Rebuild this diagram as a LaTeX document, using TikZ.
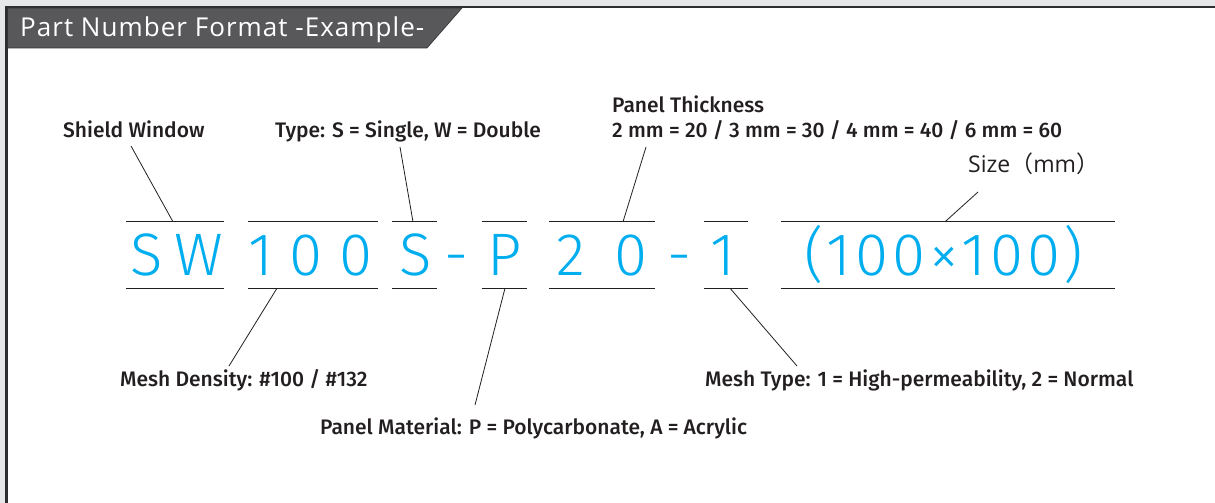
\documentclass[tikz,border=0pt]{standalone}
\usepackage{fontspec}
\IfFontExistsTF{Fira Sans Medium}{\setmainfont{Fira Sans Medium}}{\setmainfont{Fira Sans}}
\newfontfamily\titlefont[LetterSpace=4]{Open Sans}
\newfontfamily\sizefont{Open Sans}
\IfFontExistsTF{Fira Sans Light}{\newfontfamily\codefont{Fira Sans Light}}{\newfontfamily\codefont{TeX Gyre Heros}}
\newfontfamily\cjkfont{Noto Sans CJK JP}
\definecolor{cyanc}{HTML}{00AEEF}
\definecolor{inkc}{HTML}{231F20}
\definecolor{tabc}{HTML}{58585A}
\definecolor{bgc}{HTML}{E6E7E8}
\definecolor{edgec}{HTML}{2E2E2E}
\tikzset{
  lbl/.style={inner sep=0pt, anchor=base west, text=inkc, font=\fontsize{21}{23}\selectfont},
  code/.style={inner sep=0pt, anchor=base, text=cyanc, font=\codefont\fontsize{60}{63}\selectfont},
  grp/.style={inner sep=0pt, minimum height=66pt},
  bar/.style={draw=inkc, line width=1pt},
  lead/.style={draw=inkc, line width=0.8pt}
}
\begin{document}
\begin{tikzpicture}[x=1pt,y=-1pt]
\useasboundingbox (0,0) rectangle (1215,503);
% background and panel
\fill[bgc] (0,0) rectangle (1215,503);
\fill[white] (6.5,7) rectangle (1215,503);
\draw[edgec, line width=2.2pt] (6.5,503) -- (6.5,7) -- (1215,7);
% title tab
\path[fill=tabc, draw=edgec, line width=0.6pt] (7.6,8) -- (462,8) -- (427,48) -- (7.6,48) -- cycle;
\node[inner sep=0pt, anchor=base west, text=white, font=\titlefont\fontsize{26}{28}\selectfont] (title) at (20,37) {Part Number Format -Example-};

% code groups (over/under bars)
\node[grp, minimum width=98pt] (gSW) at (175,255) {};
\node[grp, minimum width=130pt] (g100) at (313,255) {};
\node[grp, minimum width=45pt] (gS) at (414.5,255) {};
\node[grp, minimum width=45pt] (gP) at (504.5,255) {};
\node[grp, minimum width=106pt] (g20) at (602,255) {};
\node[grp, minimum width=44pt] (g1) at (726,255) {};
\node[grp, minimum width=334pt] (gSize) at (948,255) {};
\foreach \g in {gSW,g100,gS,gP,g20,g1,gSize}{
  \draw[bar] (\g.north west) -- (\g.north east);
  \draw[bar] (\g.south west) -- (\g.south east);
}

% code characters
\node[code] (cS) at (147,275) {S};
\node[code] (cW) at (199,275) {W};
\node[code] (c1a) at (261,275) {1};
\node[code] (c0a) at (306,275) {0};
\node[code] (c0b) at (356,275) {0};
\node[code] (cS2) at (416,275) {S};
\node[code] (cd1) at (457,275) {-};
\node[code] (cP) at (505,275) {P};
\node[code] (c2) at (571,275) {2};
\node[code] (c0c) at (631,275) {0};
\node[code] (cd2) at (680,275) {-};
\node[code] (c1b) at (723,275) {1};
\node[code, font=\codefont\fontsize{60}{63}\selectfont\addfontfeatures{LetterSpace=6.5}] (cSize) at (944,275) {(100×100)};

% labels
\node[lbl] (lShield) at (63,137) {Shield Window};
\node[lbl] (lType) at (275,137) {Type: S = Single, W = Double};
\node[lbl] (lThick) at (612,112) {Panel Thickness};
\node[lbl] (lThickVal) at (612,137) {2 mm = 20 / 3 mm = 30 / 4 mm = 40 / 6 mm = 60};
\node[lbl, font=\sizefont\fontsize{23}{25}\selectfont] (lSize) at (968,172) {Size{\cjkfont （}mm{\cjkfont ）}};
\node[lbl] (lDensity) at (120,386) {Mesh Density: \#100 / \#132};
\node[lbl] (lMeshType) at (705,386) {Mesh Type: 1 = High-permeability, 2 = Normal};
\node[lbl] (lMaterial) at (320,434) {Panel Material: P = Polycarbonate, A = Acrylic};

% leader lines
\draw[lead] ([xshift=68pt,yshift=-9pt]lShield.base west) -- ([xshift=-2pt]gSW.north);
\draw[lead] ([xshift=125pt,yshift=-10pt]lType.base west) -- ([xshift=-1.5pt]gS.north);
\draw[lead] ([xshift=34pt,yshift=-10pt]lThickVal.base west) -- ([xshift=21pt]g20.north);
\draw[lead] ([xshift=10pt,yshift=-20pt]lSize.base west) -- ([xshift=-3pt]gSize.north);
\draw[lead] ([xshift=109pt,yshift=20pt]lDensity.base west) -- ([xshift=-36pt]g100.south);
\draw[lead] ([xshift=155pt,yshift=29pt]lMaterial.base west) -- ([xshift=0.5pt]gP.south);
\draw[lead] ([xshift=92pt,yshift=20pt]lMeshType.base west) -- ([xshift=4pt]g1.south);
\end{tikzpicture}
\end{document}
